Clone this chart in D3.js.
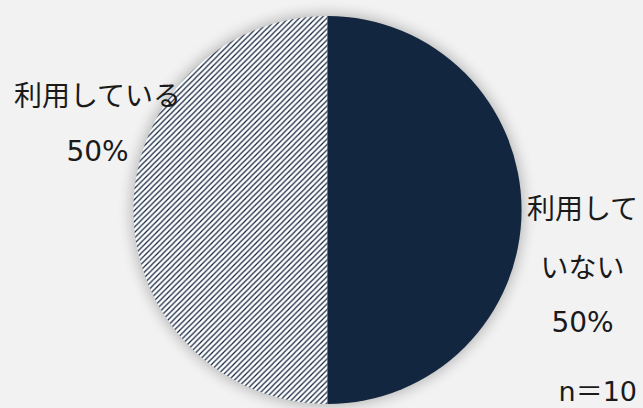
<!DOCTYPE html>
<html>
<head>
<meta charset="utf-8">
<script src="https://cdn.jsdelivr.net/npm/d3@7"></script>
<style>
  html, body { margin: 0; padding: 0; background: #f2f2f2; }
  svg { display: block; }
  text { font-family: "DejaVu Sans", "Noto Sans CJK JP", sans-serif; fill: #1a1a1a; }
</style>
</head>
<body>
<div class="container"></div>
<script>
const width = 643;
const height = 408;

const categories = ['利用している', '利用していない'];
const values = [50, 50];
const sampleSize = 10;

const cx = 327.5, cy = 210, radius = 194;
const navy = '#12263f';

const svg = d3.select('.container')
  .append('svg')
  .attr('width', width)
  .attr('height', height);

svg.append('rect').attr('width', width).attr('height', height).attr('fill', '#f2f2f2');

const defs = svg.append('defs');

// diagonal hatch, rising to the right
const s = 5.5;
const pat = defs.append('pattern')
  .attr('id', 'hatch')
  .attr('patternUnits', 'userSpaceOnUse')
  .attr('width', s)
  .attr('height', s);
pat.append('rect').attr('width', s).attr('height', s).attr('fill', '#ffffff');
pat.append('path')
  .attr('d', `M-1,${s + 1}L${s + 1},-1M${-s / 2},${s / 2}L${s / 2},${-s / 2}M${s / 2},${s * 1.5}L${s * 1.5},${s / 2}`)
  .attr('stroke', navy)
  .attr('stroke-width', 1.25);

const blur = defs.append('filter')
  .attr('id', 'shadow')
  .attr('x', '-20%').attr('y', '-20%').attr('width', '140%').attr('height', '140%');
blur.append('feGaussianBlur').attr('stdDeviation', 7);

const g = svg.append('g').attr('transform', `translate(${cx},${cy})`);

// soft shadow behind the pie
g.append('circle')
  .attr('r', radius + 2)
  .attr('fill', '#000')
  .attr('opacity', 0.25)
  .attr('filter', 'url(#shadow)');

const pie = d3.pie().sort(null).startAngle(Math.PI).endAngle(3 * Math.PI);
const arcs = pie(values);
const arc = d3.arc().innerRadius(0).outerRadius(radius);
const fills = ['url(#hatch)', navy];

g.selectAll('path.slice')
  .data(arcs)
  .enter()
  .append('path')
  .attr('class', 'slice')
  .attr('d', arc)
  .attr('fill', (d, i) => fills[i]);

// labels
const fontSize = 28;
const labelLines = [
  [categories[0], values[0] + '%'],
  ['利用して', 'いない', values[1] + '%']
];
const labelPos = [
  { x: cx - 230, y: [106, 161] },
  { x: cx + 255, y: [219, 278, 332] }
];

labelLines.forEach((lines, i) => {
  const t = svg.append('text')
    .attr('text-anchor', 'middle')
    .attr('font-size', fontSize);
  lines.forEach((str, j) => {
    t.append('tspan')
      .attr('x', labelPos[i].x)
      .attr('y', labelPos[i].y[j])
      .text(str);
  });
});

svg.append('text')
  .attr('x', 637)
  .attr('y', 401)
  .attr('text-anchor', 'end')
  .attr('font-size', 27)
  .text(`n＝${sampleSize}`);
</script>
</body>
</html>
